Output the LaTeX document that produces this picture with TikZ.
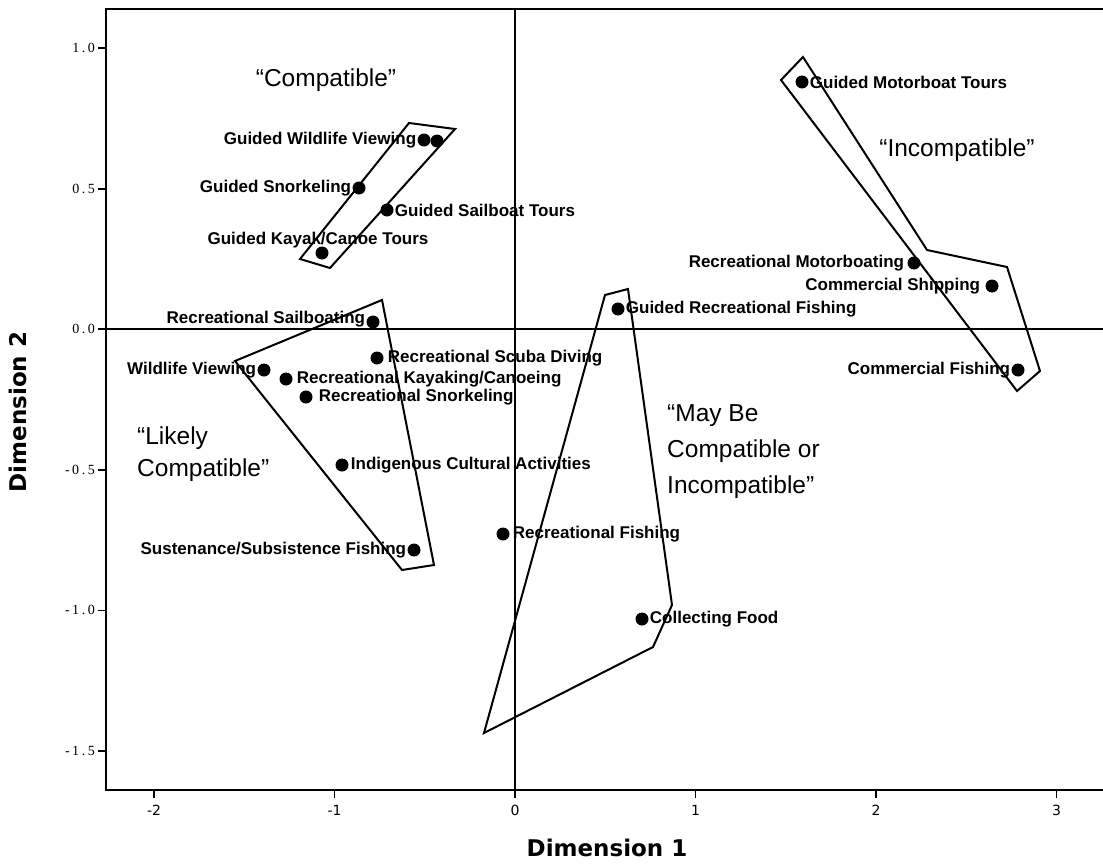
\documentclass[tikz,border=0pt]{standalone}
\usepackage{fontspec}
\setmainfont{Liberation Sans}
\newfontfamily\tickserif[LetterSpace=18]{Liberation Serif}
\newfontfamily\axisfont{DejaVu Sans}
\begin{document}
\begin{tikzpicture}[x=1pt,y=-1pt,
  dot/.style={circle,fill=black,inner sep=0pt,minimum size=13pt},
  lab/.style={font=\fontsize{17}{17}\selectfont\bfseries,inner sep=0pt},
  grp/.style={font=\fontsize{24.5}{36}\selectfont,inner sep=0pt,align=left},
  hull/.style={draw=black,line width=2pt,line join=miter},
  frameline/.style={line width=2.4pt},
  zeroline/.style={line width=2.2pt},
  tickmark/.style={line width=1.8pt},
  ytick/.style={font=\tickserif\fontsize{14}{14}\selectfont,anchor=east,inner sep=0pt},
  xtick/.style={font=\axisfont\fontsize{14}{14}\selectfont,anchor=north,inner sep=0pt},
  axtitle/.style={font=\axisfont\bfseries\fontsize{23}{23}\selectfont,inner sep=0pt}]
\useasboundingbox (0,0) rectangle (1103,867);

% frame and zero lines
\draw[frameline] (1103,9) -- (106,9) -- (106,790) -- (1103,790);
\draw[zeroline] (515,9) -- (515,790);
\draw[zeroline] (106,329) -- (1103,329);

% y ticks
\foreach \yy/\tt/\nm in {48/1.0/ya,188.6/0.5/yb,329.2/0.0/yc,469.8/-0.5/yd,610.4/-1.0/ye,751/-1.5/yf}{
  \draw[tickmark] (98,\yy) -- (106,\yy);
  \node[ytick] (\nm) at (95,\yy) {\tt};
}
% x ticks
\foreach \xx/\tt/\nm in {154/-2/xa,334.5/-1/xb,515/0/xc,695.5/1/xd,876/2/xe,1056.5/3/xf}{
  \draw[tickmark] (\xx,790) -- (\xx,798);
  \node[xtick] (\nm) at (\xx,805) {\tt};
}
\node[axtitle] (dim1) at (607,848) {Dimension 1};
\node[axtitle,rotate=90] (dim2) at (18,412) {Dimension 2};

% hulls
\draw[hull] (409,123) -- (455,129) -- (330,268) -- (300,259) -- cycle;
\draw[hull] (382,300) -- (235,361) -- (402,570) -- (434,565) -- cycle;
\draw[hull] (605,295) -- (628,289) -- (672,605) -- (653,647) -- (484,733) -- cycle;
\draw[hull] (803,57) -- (927,250) -- (1007,267) -- (1040,371) -- (1017,391) -- (781,80) -- cycle;

% group labels
\node[grp] (gcomp) at (326,80) {\char"201C Compatible\char"201D};
\node[grp] (ginc) at (957,150) {\char"201C Incompatible\char"201D};
\node[grp,font=\fontsize{24.5}{32}\selectfont,anchor=west] (glik) at (137,454) {\char"201C Likely\\Compatible\char"201D};
\node[grp,anchor=west] (gmay) at (667,452) {\char"201C May Be\\Compatible or\\Incompatible\char"201D};

% points
\node[dot] (gmt) at (802,82) {};
\node[lab,anchor=west] (gmtl) at ([xshift=1pt]gmt.east) {Guided Motorboat Tours};
\node[dot] (rmb) at (914,263) {};
\node[lab,anchor=east] (rmbl) at ([xshift=-3pt]rmb.west) {Recreational Motorboating};
\node[dot] (cs) at (992,286) {};
\node[lab,anchor=east] (csl) at ([xshift=-5pt]cs.west) {Commercial Shipping};
\node[dot] (cf) at (1018,370) {};
\node[lab,anchor=east] (cfl) at ([xshift=-1pt]cf.west) {Commercial Fishing};
\node[dot] (grf) at (618,309) {};
\node[lab,anchor=west] (grfl) at ([xshift=1pt]grf.east) {Guided Recreational Fishing};
\node[dot] (rf) at (503,534) {};
\node[lab,anchor=west] (rfl) at ([xshift=3pt]rf.east) {Recreational Fishing};
\node[dot] (cfd) at (642,619) {};
\node[lab,anchor=west] (cfdl) at ([xshift=1pt]cfd.east) {Collecting Food};

\node[dot] (gwv1) at (424,140) {};
\node[dot] (gwv2) at (437,141) {};
\node[lab,anchor=east] (gwvl) at ([xshift=-1pt]gwv1.west) {Guided Wildlife Viewing};
\node[dot] (gsn) at (359,188) {};
\node[lab,anchor=east] (gsnl) at ([xshift=-1pt]gsn.west) {Guided Snorkeling};
\node[dot] (gsb) at (387,210) {};
\node[lab,anchor=west] (gsbl) at ([xshift=1pt]gsb.east) {Guided Sailboat Tours};
\node[dot] (gkc) at (322,253) {};
\node[lab] (gkcl) at ([xshift=-4pt,yshift=13pt]gkc) {Guided Kayak/Canoe Tours};

\node[dot] (rsb) at (373,322) {};
\node[lab,anchor=east] (rsbl) at ([xshift=-1pt,yshift=3pt]rsb.west) {Recreational Sailboating};
\node[dot] (wv) at (264,370) {};
\node[lab,anchor=east] (wvl) at ([xshift=-1pt]wv.west) {Wildlife Viewing};
\node[dot] (rkc) at (286,379) {};
\node[lab,anchor=west] (rkcl) at ([xshift=4pt]rkc.east) {Recreational Kayaking/Canoeing};
\node[dot] (rsn) at (306,397) {};
\node[lab,anchor=west] (rsnl) at ([xshift=6pt]rsn.east) {Recreational Snorkeling};
\node[dot] (rsd) at (377,358) {};
\node[lab,anchor=west] (rsdl) at ([xshift=4pt]rsd.east) {Recreational Scuba Diving};
\node[dot] (ica) at (342,465) {};
\node[lab,anchor=west] (ical) at ([xshift=2pt]ica.east) {Indigenous Cultural Activities};
\node[dot] (ssf) at (414,550) {};
\node[lab,anchor=east] (ssfl) at ([xshift=-1pt]ssf.west) {Sustenance/Subsistence Fishing};
\end{tikzpicture}
\end{document}
